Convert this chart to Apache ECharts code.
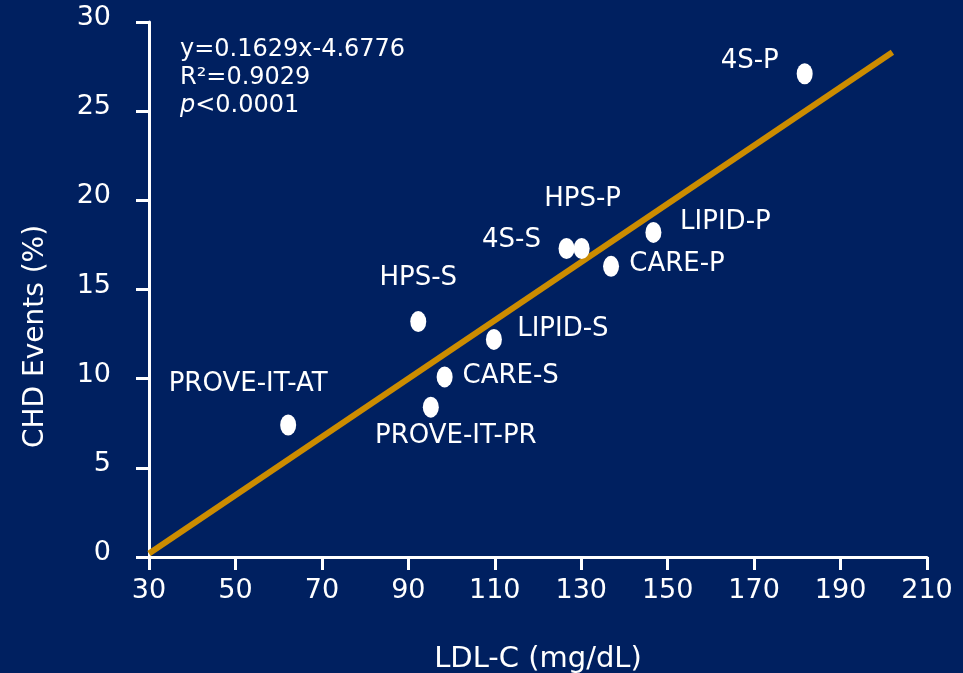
<!DOCTYPE html>
<html>
<head>
<meta charset="utf-8">
<script src="https://cdn.jsdelivr.net/npm/echarts@6/dist/echarts.min.js"></script>
<style>
html,body{margin:0;padding:0;background:#002060;}
#chart{width:963px;height:673px;}
</style>
</head>
<body>
<div id="chart"></div>
<script>
// ---- data ----
var trialNames = ['PROVE-IT-AT','PROVE-IT-PR','CARE-S','HPS-S','LIPID-S','4S-S','HPS-P','CARE-P','LIPID-P','4S-P'];
var ldlValues  = [62.2, 95.2, 98.4, 92.3, 109.8, 126.6, 130.1, 136.9, 146.7, 181.7];
var chdValues  = [7.4, 8.4, 10.1, 13.2, 12.2, 17.3, 17.3, 16.3, 18.2, 27.1];
var trendLdl   = [30, 202];
var trendChd   = [0.2, 28.3];
var xTicks     = [30, 50, 70, 90, 110, 130, 150, 170, 190, 210];
var yTicks     = [0, 5, 10, 15, 20, 25, 30];
var equationLines = ['y=0.1629x-4.6776', 'R²=0.9029', '<0.0001'];

// ---- label placement (style, offsets from marker centre in px) ----
var labelOffsets = {
  'PROVE-IT-AT': [-40, -41],
  'PROVE-IT-PR': [25, 29],
  'CARE-S': [66, -1],
  'HPS-S': [0, -43],
  'LIPID-S': [69, -10],
  '4S-S': [-55, -8],
  'HPS-P': [1, -49],
  'CARE-P': [66, -2],
  'LIPID-P': [72, -10],
  '4S-P': [-55, -12]
};

var FONT = 'DejaVu Sans';
var scatterData = trialNames.map(function (n, i) {
  return {
    name: n,
    value: [ldlValues[i], chdValues[i]],
    label: { offset: labelOffsets[n] }
  };
});
var trendData = trendLdl.map(function (x, i) { return [x, trendChd[i]]; });

var chart = echarts.init(document.getElementById('chart'), null, { renderer: 'canvas' });
chart.setOption({
  backgroundColor: '#002060',
  animation: false,
  grid: { left: 149, right: 36, top: 22, bottom: 116, containLabel: false, outerBoundsMode: 'none' },
  xAxis: {
    type: 'value', min: xTicks[0], max: xTicks[xTicks.length - 1], interval: 20,
    name: 'LDL-C (mg/dL)', nameLocation: 'middle', nameGap: 88,
    nameTextStyle: { color: '#ffffff', fontSize: 29, fontFamily: FONT },
    axisLine: { show: true, lineStyle: { color: '#ffffff', width: 3 } },
    axisTick: { show: true, length: 13, lineStyle: { color: '#ffffff', width: 3 } },
    axisLabel: { color: '#ffffff', fontSize: 27, fontFamily: FONT, margin: 20 },
    splitLine: { show: false }
  },
  yAxis: {
    type: 'value', min: yTicks[0], max: yTicks[yTicks.length - 1], interval: 5,
    name: 'CHD Events (%)', nameLocation: 'middle', nameGap: 99,
    nameTextStyle: { color: '#ffffff', fontSize: 28, fontFamily: FONT, padding: [0, 94, 0, 0] },
    axisLine: { show: true, lineStyle: { color: '#ffffff', width: 3 } },
    axisTick: { show: true, length: 13, lineStyle: { color: '#ffffff', width: 3 } },
    axisLabel: {
      color: '#ffffff', fontFamily: FONT, margin: 38,
      formatter: '{t|{value}}',
      rich: { t: { color: '#ffffff', fontSize: 27, fontFamily: FONT, padding: [0, 0, 8, 0] } }
    },
    splitLine: { show: false }
  },
  graphic: [{
    type: 'text', left: 180, top: 38,
    style: {
      text: '{n|' + equationLines[0] + '}\n{n|' + equationLines[1] + '}\n{i|p}{n|' + equationLines[2] + '}',
      rich: {
        n: { fill: '#ffffff', fontSize: 24, fontFamily: FONT, lineHeight: 28 },
        i: { fill: '#ffffff', fontSize: 24, fontFamily: FONT, fontStyle: 'italic', lineHeight: 28 }
      }
    }
  }],
  series: [{
    type: 'line', data: trendData, symbol: 'none', silent: true,
    lineStyle: { color: '#cc8c00', width: 6 }, z: 2
  }, {
    type: 'scatter', data: scatterData, symbol: 'circle', symbolSize: [16, 21],
    itemStyle: { color: '#ffffff', opacity: 1 }, z: 3,
    label: {
      show: true, position: 'inside', align: 'center', verticalAlign: 'middle',
      formatter: '{b}', color: '#ffffff', fontSize: 26, fontFamily: FONT
    }
  }]
});
</script>
</body>
</html>
